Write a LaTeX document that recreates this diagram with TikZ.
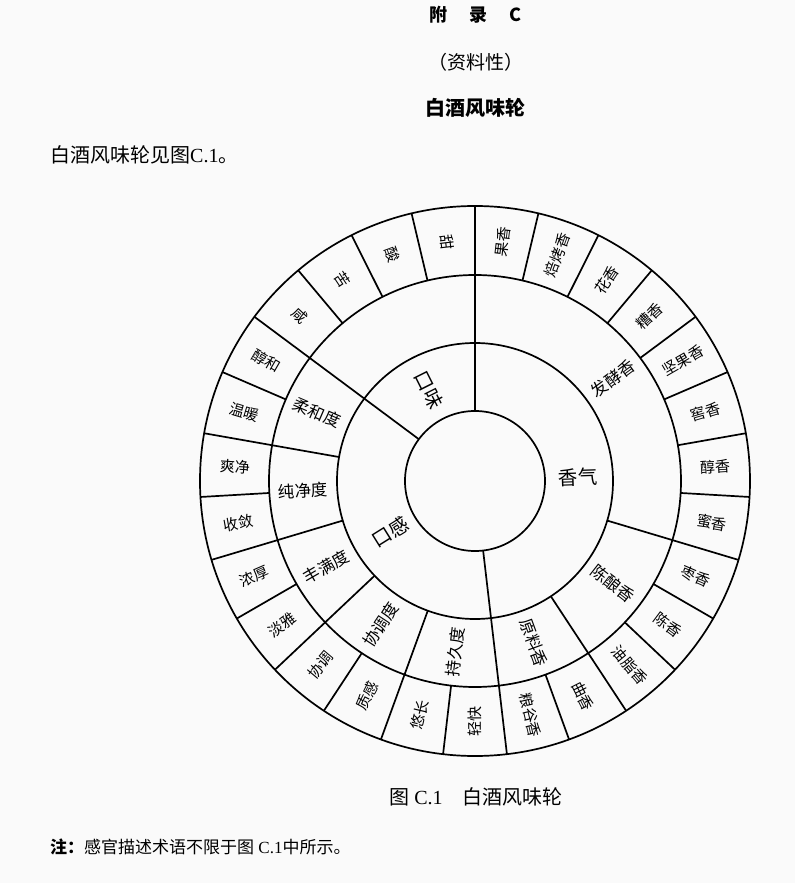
\documentclass[tikz,border=0pt]{standalone}
\usepackage{fontspec}
\setmainfont{Liberation Serif}
\newfontfamily\cjk{Noto Sans CJK SC}
\definecolor{bg}{RGB}{250,250,250}
\begin{document}
\begin{tikzpicture}[x=1pt,y=1pt,
  ring/.style={line width=1.7pt},
  spoke/.style={line width=1.7pt},
  outerlbl/.style={font=\cjk\fontsize{15}{15}\selectfont, inner sep=0pt},
  midlbl/.style={font=\cjk\fontsize{16.5}{16.5}\selectfont, inner sep=0pt},
  catlbl/.style={font=\cjk\fontsize{19.5}{19.5}\selectfont, inner sep=0pt},
  txt/.style={inner sep=0pt}]
\fill[bg] (-475,-402) rectangle (320,481);
\useasboundingbox (-475,-402) rectangle (320,481);

% rings
\foreach \r in {70,138,206,275} \draw[ring] (0,0) circle[radius=\r];

% spokes
\foreach \k in {0,13,23} \draw[spoke] ({90-40/3*\k}:70) -- ({90-40/3*\k}:275);
\foreach \k in {8,11,15,17,19,21} \draw[spoke] ({90-40/3*\k}:138) -- ({90-40/3*\k}:275);
\foreach \k in {1,2,3,4,5,6,7,9,10,12,14,16,18,20,22,24,25,26} \draw[spoke] ({90-40/3*\k}:206) -- ({90-40/3*\k}:275);

% outer labels
\foreach \k/\t in {0/果香,1/焙烤香,2/花香,3/糟香,4/坚果香,5/窖香,6/醇香,7/蜜香,8/枣香,9/陈香,10/油脂香,11/曲香,12/粮谷香,13/轻快,14/悠长,15/质感,16/协调,17/淡雅,18/浓厚,19/收敛,20/爽净,21/温暖,22/醇和,23/咸,24/苦,25/酸,26/甜} {
  \pgfmathsetmacro\a{90-40/3*(\k+0.5)}
  \pgfmathsetmacro\rot{\a>-89 ? \a : \a+180}
  \node[outerlbl, rotate=\rot] (o\k) at (\a:240.5) {\t};
}

% middle labels
\node[midlbl, rotate=36.67] (m1) at (36.67:172) {发酵香};
\node[midlbl, rotate=-38] (m2) at (-36.67:172) {陈酿香};
\node[midlbl, rotate=-70] (m3) at (-70:172) {原料香};
\node[midlbl, rotate=83.33] (m4) at (-96.67:172) {持久度};
\node[midlbl, rotate=56.67] (m5) at (-123.33:172) {协调度};
\node[midlbl, rotate=30] (m6) at (-150:172) {丰满度};
\node[midlbl, rotate=3.33] (m7) at (-176.67:172) {纯净度};
\node[midlbl, rotate=-23.33] (m8) at (-203.33:172) {柔和度};

% category labels
\node[catlbl, rotate=-63.33] (c1) at (116.67:102) {口味};
\node[catlbl, rotate=2] (c2) at (2:103) {香气};
\node[catlbl, rotate=32] (c3) at (-149:99) {口感};

% texts
\node[txt, font=\cjk\bfseries\fontsize{18}{18}\selectfont] (t1) at (1,466) {附\hspace{22pt}录\hspace{22pt}C};
\node[txt, font=\cjk\fontsize{19}{19}\selectfont] (t2) at (1,419) {（资料性）};
\node[txt, font=\cjk\bfseries\fontsize{20}{20}\selectfont] (t3) at (1,373) {白酒风味轮};
\node[txt, anchor=west, font=\fontsize{20}{20}\selectfont] (t4) at (-425,326) {{\cjk 白酒风味轮见图}C.1{\cjk 。}};
\node[txt, font=\fontsize{20}{20}\selectfont] (cap) at (1,-316) {{\cjk 图} C.1\hspace{20pt}{\cjk 白酒风味轮}};
\node[txt, anchor=west, font=\fontsize{17}{17}\selectfont] (note) at (-425,-366) {{\cjk\bfseries 注：}{\cjk 感官描述术语不限于图} C.1{\cjk 中所示。}};
\end{tikzpicture}
\end{document}
